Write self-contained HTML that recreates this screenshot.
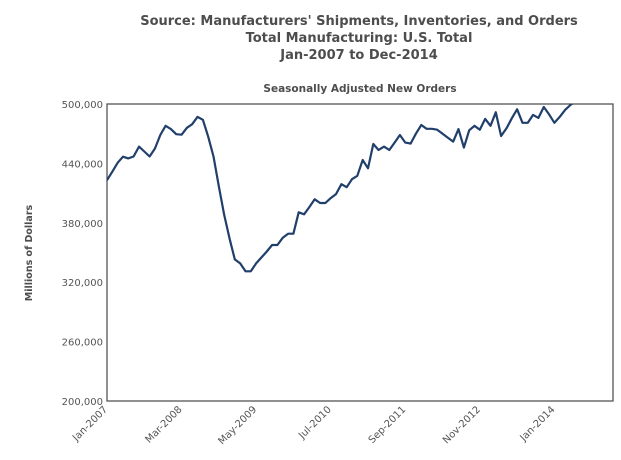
<!DOCTYPE html>
<html><head><meta charset="utf-8"><style>
body{margin:0;background:#fff;font-family:"DejaVu Sans","Liberation Sans",sans-serif}
</style></head><body>
<svg width="621" height="456" xmlns="http://www.w3.org/2000/svg" font-family="DejaVu Sans, Liberation Sans, sans-serif">
<g fill="#4d4d4d" font-weight="bold" text-anchor="middle" font-size="13">
<text x="359" y="25">Source: Manufacturers' Shipments, Inventories, and Orders</text>
<text x="359" y="42">Total Manufacturing: U.S. Total</text>
<text x="359" y="59">Jan-2007 to Dec-2014</text>
</g>
<text x="360" y="92" font-size="10.5" font-weight="bold" fill="#4d4d4d" text-anchor="middle">Seasonally Adjusted New Orders</text>
<text transform="translate(32,253) rotate(-90)" font-size="9.5" font-weight="bold" fill="#4d4d4d" text-anchor="middle">Millions of Dollars</text>
<defs><clipPath id="c"><rect x="107" y="104" width="506" height="297"/></clipPath></defs>
<rect x="107" y="104" width="506" height="297" fill="none" stroke="#555" stroke-width="1.3"/>
<g id="yt"></g><g id="xt"></g>
<path id="ln" fill="none" stroke="#213f6b" stroke-width="2.2" stroke-linejoin="round" clip-path="url(#c)"/>
</svg>
<script>
const yTicks=[200000,260000,320000,380000,440000,500000];
const xTickLabels=["Jan-2007","Mar-2008","May-2009","Jul-2010","Sep-2011","Nov-2012","Jan-2014"];
const xTickMonths=[0,14,28,42,56,70,84];
const values=[423,431.6,440.7,446.8,445,447,457,452,447,455,468.7,478,474.6,469.5,469,476,479.6,487,484,467,447,416.5,388,364.3,343,339,331,331,339,345,351,357.6,357.6,365,369,369,390.6,388.6,396,403.7,400,400,405,409,419,416,424,427.5,443.4,435,459.6,453.5,457,453.5,461,468.7,461,460,470,478.8,475,475,474,470,466,462,474.6,456,473.4,478,474,485,478,491.6,467.7,475.5,485.6,494.6,481,481,489,486,497,489.5,481,487,494,499,503];
const X0=107,X1=613,Y0=401,Y1=104,NM=95;
const xs=m=>X0+m*(X1-X0)/NM;
const ys=v=>Y0-(v-200000)*(Y0-Y1)/300000;
const ns="http://www.w3.org/2000/svg";
const yt=document.getElementById('yt'),xt=document.getElementById('xt');
yTicks.forEach(t=>{const e=document.createElementNS(ns,'text');
e.setAttribute('x',103);e.setAttribute('y',ys(t)+4);e.setAttribute('text-anchor','end');
e.setAttribute('font-size','10');e.setAttribute('fill','#555');


e.textContent=t.toLocaleString('en-US');yt.appendChild(e);});
xTickLabels.forEach((l,i)=>{const x=xs(xTickMonths[i]);const e=document.createElementNS(ns,'text');
e.setAttribute('transform','translate('+(x+1)+',410) rotate(-45)');e.setAttribute('text-anchor','end');
e.setAttribute('font-size','10');e.setAttribute('fill','#555');


e.textContent=l;xt.appendChild(e);});
document.getElementById('ln').setAttribute('d',values.map((v,i)=>(i?'L':'M')+xs(i).toFixed(1)+','+ys(v*1000).toFixed(1)).join(''));
</script>
</body></html>
